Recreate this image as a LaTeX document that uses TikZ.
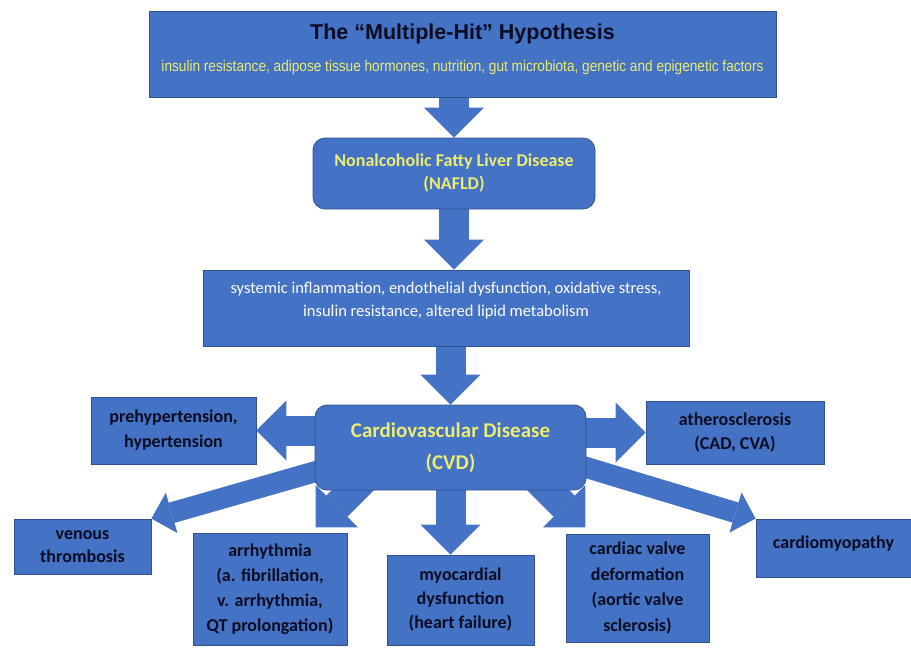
\documentclass[tikz,border=0pt]{standalone}
\usepackage{fontspec}
\setmainfont{Carlito}
\newfontfamily\arialfont{Liberation Sans}
\newfontfamily\arialnarrow[FakeStretch=0.88]{Liberation Sans}
\usetikzlibrary{arrows.meta,backgrounds,calc}
\definecolor{boxblue}{RGB}{68,114,196}
\definecolor{boxline}{RGB}{47,82,143}
\definecolor{hityellow}{RGB}{236,236,112}
\definecolor{darkink}{RGB}{12,12,34}

\begin{document}
\begin{tikzpicture}[x=1pt, y=-1pt,
  box/.style={draw=boxline, line width=.8pt, fill=boxblue, align=center, inner sep=2pt,
    text=darkink, font=\fontsize{18}{25}\selectfont\bfseries},
  roundbox/.style={box, rounded corners=12pt},
  bigarrow/.style={draw=boxblue, line width=30pt, -{Triangle[width=60pt,length=30pt,line width=0pt]}},
  slimarrow/.style={draw=boxblue, line width=21pt, -{Triangle[width=42pt,length=21pt,line width=0pt]}}]
  \useasboundingbox (0,0) rectangle (911,648);
  \node[box, minimum width=627pt, minimum height=86pt] (hit) at (462.5,54)
    {{\arialfont\fontsize{21.5}{30}\selectfont The “Multiple-Hit” Hypothesis}\\[7pt]
     {\arialnarrow\mdseries\fontsize{15.5}{18}\selectfont\color{hityellow}insulin resistance, adipose tissue hormones, nutrition, gut microbiota, genetic and epigenetic factors}\\[-13pt]\mbox{}};
  \node[roundbox, minimum width=282pt, minimum height=71pt, text=hityellow,
    font=\fontsize{18}{23}\selectfont\bfseries] (nafld) at (454,173.5)
    {Nonalcoholic Fatty Liver Disease\\(NAFLD)};
  \node[box, minimum width=486pt, minimum height=76pt, text=white,
    font=\fontsize{16.5}{23}\selectfont] (sys) at (446,308)
    {systemic inflammation, endothelial dysfunction, oxidative stress,\\insulin resistance, altered lipid metabolism\\[-5pt]\mbox{}};
  \node[roundbox, minimum width=271pt, minimum height=85pt, text=hityellow,
    font=\fontsize{21}{32}\selectfont\bfseries] (cvd) at (450.5,447.5)
    {Cardiovascular Disease\\(CVD)};
  \node[box, minimum width=165pt, minimum height=67pt] (preh) at (173.5,430.5) {prehypertension,\\hypertension};
  \node[box, minimum width=178pt, minimum height=63pt, font=\fontsize{18}{24}\selectfont\bfseries] (ath) at (735,432.5) {atherosclerosis\\(CAD, CVA)};
  \node[box, minimum width=137pt, minimum height=55pt, font=\fontsize{18}{23}\selectfont\bfseries] (ven) at (82.5,546.5) {venous\\thrombosis};
  \node[box, minimum width=154pt, minimum height=112pt] (arr) at (270,589) {arrhythmia\\(a. fibrillation,\\v. arrhythmia,\\QT prolongation)};
  \node[box, minimum width=147pt, minimum height=90pt, font=\fontsize{18}{24}\selectfont\bfseries] (myo) at (460.5,600) {myocardial\\dysfunction\\(heart failure)};
  \node[box, minimum width=143pt, minimum height=108pt, font=\fontsize{18}{25.5}\selectfont\bfseries] (valve) at (637.5,588) {cardiac valve\\deformation\\(aortic valve\\sclerosis)};
  \node[box, minimum width=155pt, minimum height=58pt] (cardio) at (833.5,548) {cardiomyopathy\\[-14pt]\mbox{}};
  \coordinate (arrtip) at ($(cvd.south west)+(1,37)$);
  \coordinate (valvetip) at ($(cvd.south east)+(-1,37)$);
  \begin{scope}[on background layer]
    \draw[bigarrow] (nafld.north |- hit.south) -- (nafld.north);
    \draw[bigarrow] (nafld.south) -- (nafld.south |- sys.north);
    \draw[bigarrow] (cvd.north |- sys.south) -- (cvd.north);
    \draw[bigarrow] (cvd.center |- preh.east) -- (preh.east);
    \draw[bigarrow] (cvd.center |- ath.west) -- (ath.west);
    \draw[bigarrow] (cvd.center) -- (cvd.center |- myo.north);
    \draw[bigarrow] ($(arrtip)+(84,-84)$) -- (arrtip);
    \draw[bigarrow] ($(valvetip)+(-84,-84)$) -- (valvetip);
    \draw[slimarrow] ($(cvd.south west)+(40,-30)$) -- (ven.north east);
    \draw[slimarrow] ($(cvd.south east)+(-40,-35)$) -- (cardio.north west);
  \end{scope}
\end{tikzpicture}
\end{document}
